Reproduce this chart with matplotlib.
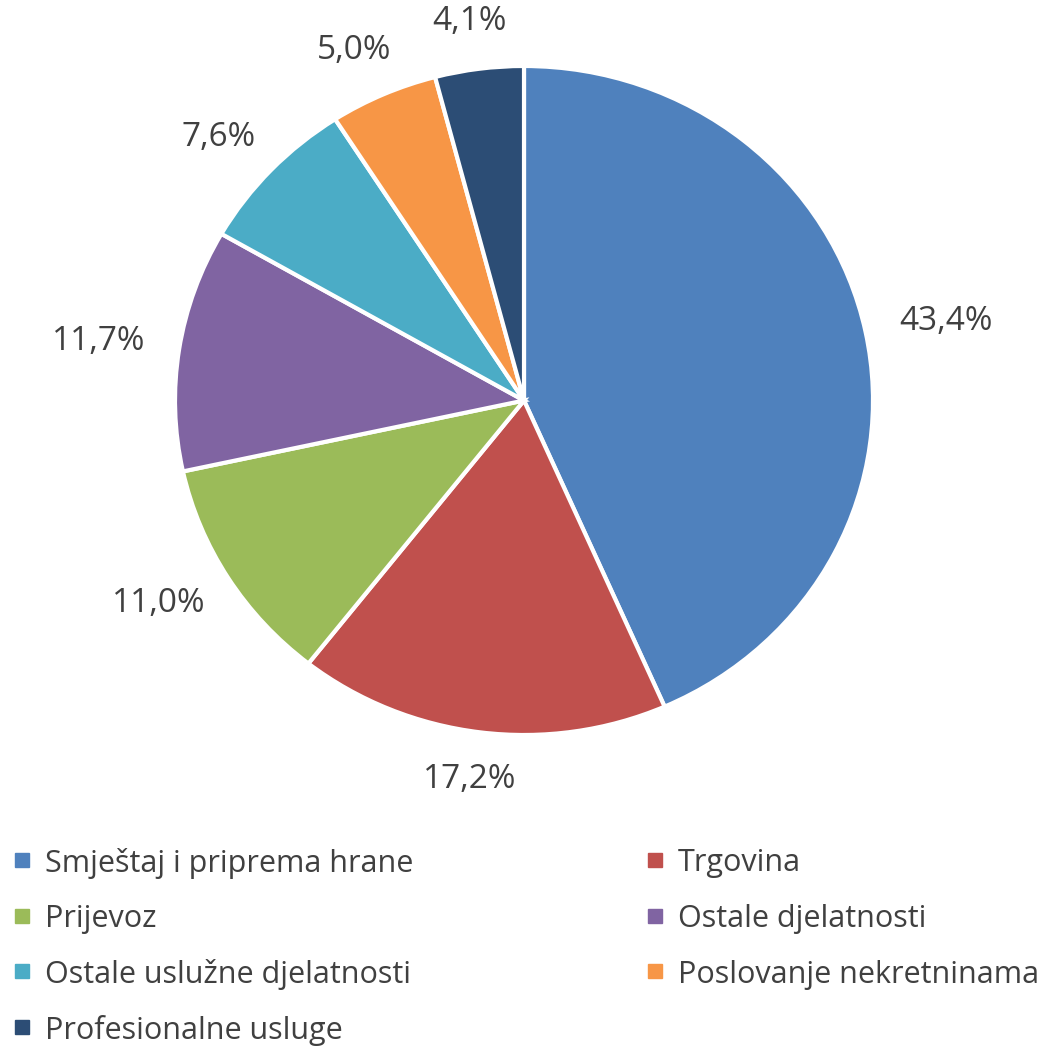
import numpy as np
import matplotlib.pyplot as plt
from matplotlib.lines import Line2D

# ============================================================
# Data
# ============================================================
categories = [
    "Smještaj i priprema hrane",
    "Trgovina",
    "Prijevoz",
    "Ostale djelatnosti",
    "Ostale uslužne djelatnosti",
    "Poslovanje nekretninama",
    "Profesionalne usluge",
]
shares = [43.4, 17.2, 11.0, 11.7, 7.6, 5.0, 4.1]
labels = ["43,4%", "17,2%", "11,0%", "11,7%", "7,6%", "5,0%", "4,1%"]
colors = ["#4F81BD", "#C0504D", "#9BBB59", "#8064A2", "#4BACC6", "#F79646", "#2C4D75"]

text_color = "#404040"
plt.rcParams["font.family"] = ["Open Sans", "DejaVu Sans"]

# ============================================================
# Figure
# ============================================================
W, H = 1058, 1046
fig = plt.figure(figsize=(W / 100, H / 100), dpi=100)

# pie box in pixels
left, right, top, bottom = 175, 873, 66, 735
rx = (right - left) / 2
ry = (bottom - top) / 2
ax = fig.add_axes([left / W, 1 - bottom / H, (right - left) / W, (bottom - top) / H])

wedges, _ = ax.pie(
    shares,
    colors=colors,
    startangle=90,
    counterclock=False,
    wedgeprops=dict(edgecolor="white", linewidth=3),
)
ax.set_aspect("auto")
ax.set_xlim(-1, 1)
ax.set_ylim(-1, 1)

# ============================================================
# Data labels outside the pie, fixed gap from the edge
# ============================================================
renderer = fig.canvas.get_renderer()
gap = 35  # px
for w, lab in zip(wedges, labels):
    mid = np.deg2rad((w.theta1 + w.theta2) / 2)
    c, s = np.cos(mid), np.sin(mid)
    t = ax.text(0, 0, lab, ha="center", va="center", fontsize=24, color=text_color)
    bb = t.get_window_extent(renderer)
    tw, th = bb.width, bb.height * 0.75
    x = c * (rx + gap + tw / 2) / rx
    y = s * (ry + gap + th / 2) / ry
    t.set_position((x, y))

# ============================================================
# Legend (row-wise, two columns)
# ============================================================
col_x = [22, 655]       # marker centres, px
text_dx = 23
row_y0, row_dy = 860, 55.5
for i, (name, c) in enumerate(zip(categories, colors)):
    r, k = divmod(i, 2)
    xm = col_x[k] / W
    ym = 1 - (row_y0 + r * row_dy) / H
    fig.add_artist(Line2D([xm], [ym], marker="s", markersize=10, linestyle="none",
                          markerfacecolor=c, markeredgecolor=c,
                          transform=fig.transFigure))
    fig.text(xm + text_dx / W, ym, name, ha="left", va="center_baseline",
             fontsize=22, color=text_color)

fig.savefig("out.png", dpi=100)
